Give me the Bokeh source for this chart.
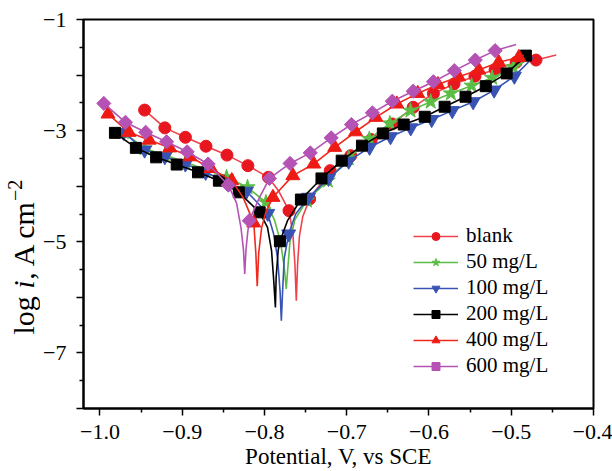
import numpy as np
from bokeh.plotting import figure
from bokeh.layouts import row
from bokeh.models import Range1d, FixedTicker, Legend, LegendItem
from bokeh.core.properties import value
from bokeh.embed import file_html
from bokeh.resources import INLINE

FONT = "Liberation Serif"

# ---- axes -------------------------------------------------------------
x_ticks = [-1.0, -0.9, -0.8, -0.7, -0.6, -0.5, -0.4]
x_tick_labels = ["\u22121.0", "\u22120.9", "\u22120.8", "\u22120.7", "\u22120.6", "\u22120.5", "\u22120.4"]
x_minor = [-0.95, -0.85, -0.75, -0.65, -0.55, -0.45]
y_ticks = [-8, -7, -6, -5, -4, -3, -2, -1]
y_tick_labels = ["", "\u22127", "", "\u22125", "", "\u22123", "", "\u22121"]
y_minor = [-7.5, -6.5, -5.5, -4.5, -3.5, -2.5, -1.5]
x_title = "Potential, V, vs SCE"
# y title pieces: (text, font style)
y_title_parts = [("log ", "normal"), ("i", "italic"), (", A cm", "normal"), ("\u22122", "normal")]

# ---- polarization curves: potential (V vs SCE) and log i (A cm^-2) -----
# marked points of each curve, plus extra points tracing the corrosion dip
blank_mk_E = [-0.9457, -0.9211, -0.8961, -0.8711, -0.8456, -0.8202, -0.7952, -0.7702, -0.7451, -0.7201,
              -0.6951, -0.6701, -0.6446, -0.6192, -0.5946, -0.5696, -0.5441, -0.5196, -0.4941, -0.4699]
blank_mk_L = [-2.63, -2.95, -3.12, -3.28, -3.44, -3.63, -3.84, -4.44, -4.23, -3.72,
              -3.45, -3.16, -2.88, -2.58, -2.33, -2.16, -2.02, -1.90, -1.77, -1.73]
blank_ex_E = [-0.7830, -0.7655, -0.7630, -0.7613, -0.7597, -0.7575, -0.7535, -0.4453]
blank_ex_L = [-4.08, -4.85, -5.40, -6.06, -5.40, -4.90, -4.55, -1.64]

c50_mk_E = [-0.9712, -0.9457, -0.9211, -0.8961, -0.8715, -0.8461, -0.8206, -0.7982, -0.7485, -0.7231,
            -0.6976, -0.6724, -0.6476, -0.6225, -0.5979, -0.5734, -0.5482, -0.5233, -0.4975]
c50_mk_L = [-3.03, -3.32, -3.44, -3.57, -3.70, -3.84, -4.02, -4.29, -4.26, -3.90,
            -3.50, -3.15, -2.87, -2.64, -2.48, -2.33, -2.19, -2.05, -1.86]
c50_ex_E = [-0.7880, -0.7805, -0.7760, -0.7735, -0.7715, -0.7690, -0.7630, -0.4760]
c50_ex_L = [-4.60, -5.00, -5.45, -5.85, -5.45, -5.00, -4.60, -1.70]

c100_mk_E = [-0.9712, -0.9457, -0.9211, -0.8961, -0.8715, -0.8461, -0.8219, -0.7960, -0.7706, -0.7464,
             -0.7222, -0.6976, -0.6722, -0.6468, -0.6222, -0.5967, -0.5717, -0.5463, -0.5208, -0.4962]
c100_mk_L = [-3.03, -3.35, -3.47, -3.60, -3.75, -3.93, -4.09, -4.49, -4.86, -4.20,
             -3.86, -3.55, -3.30, -3.11, -2.95, -2.80, -2.64, -2.48, -2.27, -2.02]
c100_ex_E = [-0.7890, -0.7840, -0.7810, -0.7795, -0.7780, -0.7760, -0.7620, -0.4725]
c100_ex_L = [-4.85, -5.30, -5.90, -6.42, -5.90, -5.30, -4.50, -1.67]

c200_mk_E = [-0.9818, -0.9563, -0.9317, -0.9067, -0.8808, -0.8554, -0.8312, -0.8058, -0.7812, -0.7557,
             -0.7307, -0.7061, -0.6815, -0.6561, -0.6307, -0.6052, -0.5810, -0.5556, -0.5310, -0.5056, -0.4822]
c200_mk_L = [-3.04, -3.31, -3.48, -3.61, -3.75, -3.90, -4.11, -4.47, -4.99, -4.24,
             -3.86, -3.54, -3.27, -3.05, -2.89, -2.75, -2.57, -2.39, -2.20, -1.97, -1.65]
c200_ex_E = [-0.7963, -0.7914, -0.7890, -0.7867, -0.7858, -0.7834, -0.7720]
c200_ex_L = [-4.74, -5.16, -5.64, -6.18, -5.64, -5.16, -4.62]

c400_mk_E = [-0.9902, -0.9648, -0.9402, -0.9152, -0.8906, -0.8651, -0.8397, -0.8130, -0.7897, -0.7655,
             -0.7401, -0.7146, -0.6892, -0.6646, -0.6391, -0.6137, -0.5891, -0.5641, -0.5395, -0.5153, -0.4907]
c400_mk_L = [-2.70, -3.03, -3.17, -3.31, -3.47, -3.68, -3.90, -4.66, -4.20, -3.81,
             -3.60, -3.30, -3.02, -2.76, -2.52, -2.33, -2.17, -2.03, -1.91, -1.77, -1.68]
c400_ex_E = [-0.8260, -0.8105, -0.8088, -0.8070, -0.8035, -0.7980, -0.4850]
c400_ex_L = [-4.20, -5.20, -5.80, -5.20, -4.75, -4.45, -1.64]

c600_mk_E = [-0.9953, -0.9690, -0.9444, -0.9190, -0.8940, -0.8685, -0.8439, -0.8185, -0.7939, -0.7689,
             -0.7443, -0.7189, -0.6943, -0.6688, -0.6446, -0.6192, -0.5946, -0.5692, -0.5437, -0.5196]
c600_mk_L = [-2.51, -2.85, -3.03, -3.20, -3.38, -3.60, -3.98, -4.62, -3.86, -3.59,
             -3.40, -3.13, -2.89, -2.68, -2.47, -2.29, -2.12, -1.92, -1.73, -1.56]
c600_ex_E = [-0.8340, -0.8285, -0.8255, -0.8240, -0.8225, -0.8205, -0.8060, -0.4941]
c600_ex_L = [-4.30, -4.75, -5.15, -5.58, -5.15, -4.85, -4.20, -1.45]

series_labels = ["blank", "50 mg/L", "100 mg/L", "200 mg/L", "400 mg/L", "600 mg/L"]

series = [
    (blank_mk_E, blank_mk_L, blank_ex_E, blank_ex_L, "#f0424c", "#e8161f", "circle", 12, 0),
    (c50_mk_E, c50_mk_L, c50_ex_E, c50_ex_L, "#5cbd45", "#5cbd45", "star", 16, 0),
    (c100_mk_E, c100_mk_L, c100_ex_E, c100_ex_L, "#3853b3", "#3853b3", "inverted_triangle", 14, 0),
    (c200_mk_E, c200_mk_L, c200_ex_E, c200_ex_L, "#000000", "#000000", "square", 11, 0),
    (c400_mk_E, c400_mk_L, c400_ex_E, c400_ex_L, "#f2281c", "#ee1a14", "triangle", 14, 0),
    (c600_mk_E, c600_mk_L, c600_ex_E, c600_ex_L, "#b553b5", "#b553b5", "square", 10, np.pi / 4),
]

# ---- main plot --------------------------------------------------------
p = figure(width=572, height=471, x_range=Range1d(-1.02, -0.4), y_range=Range1d(-8, -1),
           output_backend="svg", toolbar_location=None,
           min_border_left=42, min_border_right=19, min_border_top=19, min_border_bottom=63)
p.background_fill_color = "white"
p.border_fill_color = "white"
p.grid.visible = False
p.outline_line_color = "black"
p.outline_line_width = 2

for ax in (p.xaxis[0], p.yaxis[0]):
    ax.axis_line_width = 2
    ax.major_tick_in = 0
    ax.major_tick_out = 7
    ax.minor_tick_in = 0
    ax.minor_tick_out = 4
    ax.major_tick_line_width = 1.5
    ax.minor_tick_line_width = 1.5
    ax.major_label_text_font = FONT
    ax.major_label_text_font_size = "22px"
    ax.major_label_text_color = "black"

p.xaxis.ticker = FixedTicker(ticks=x_ticks, minor_ticks=x_minor)
p.xaxis.major_label_overrides = dict(zip(x_ticks, x_tick_labels))
p.xaxis.major_label_standoff = 9
p.xaxis.axis_label = x_title
p.xaxis.axis_label_text_font = FONT
p.xaxis.axis_label_text_font_size = "23px"
p.xaxis.axis_label_text_font_style = "normal"
p.xaxis.axis_label_text_color = "black"
p.xaxis.axis_label_standoff = 2
p.yaxis.ticker = FixedTicker(ticks=y_ticks, minor_ticks=y_minor)
p.yaxis.major_label_overrides = dict(zip(y_ticks, y_tick_labels))
p.yaxis.major_label_standoff = 10

items = []
for (mE, mL, xE, xL, lc, mc, mk, sz, ang), lab in zip(series, series_labels):
    E = np.array(mE + xE)
    L = np.array(mL + xL)
    order = np.argsort(E)
    lr = p.line(E[order], L[order], line_color=lc, line_width=1.6)
    sr = p.scatter(mE, mL, marker=mk, size=sz, angle=ang, fill_color=mc, line_color=mc)
    items.append(LegendItem(label=lab, renderers=[lr, sr]))

legend = Legend(items=items, location=(330, 30), orientation="vertical",
                border_line_color=None, background_fill_alpha=0, padding=0, margin=0,
                spacing=1, glyph_width=45, glyph_height=20, label_height=20, label_standoff=8,
                label_text_font=FONT, label_text_font_size="21px", label_text_color="black")
p.add_layout(legend)

# ---- vertical axis title, set in a narrow strip left of the plot -------
# the strip's frame lines up with the plot frame (canvas rows 19..408),
# so its y range is chosen to give one unit per pixel (y = 471 - canvas row)
t = figure(width=40, height=471, x_range=Range1d(0, 40), y_range=Range1d(63, 452),
           output_backend="svg", toolbar_location=None,
           x_axis_location=None, y_axis_location=None,
           min_border_left=0, min_border_right=0, min_border_top=19, min_border_bottom=63)
t.grid.visible = False
t.outline_line_color = None
t.background_fill_color = "white"
t.border_fill_color = "white"

fs = 30      # main size of the title
fs_sup = 20  # superscript size
advance = [1.528 * fs, 0.30 * fs, 2.62 * fs, 0.0]
sizes = [fs, fs, fs, fs_sup]
centre_x = [23.0, 23.0, 23.0, 14.0]
pos = 471 - 334
for (txt, style), w, s, cx in zip(y_title_parts, advance, sizes, centre_x):
    t.text(x=[cx], y=[pos], text=[txt], angle=np.pi / 2,
           text_font=value(FONT), text_font_style=style, text_font_size=f"{s}px",
           text_align="left", text_baseline="middle", text_color="black")
    pos += w

layout = row(t, p, spacing=0)
open("out.html", "w").write(file_html(layout, INLINE))
